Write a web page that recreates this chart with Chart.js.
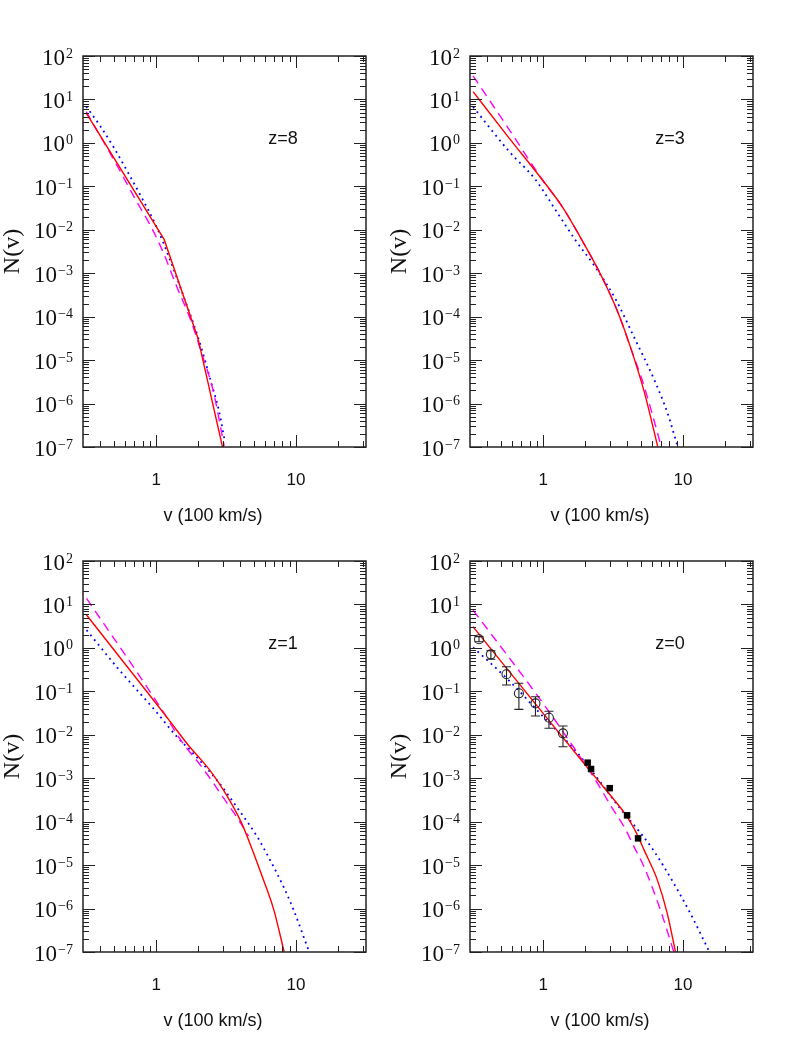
<!DOCTYPE html>
<html>
<head>
<meta charset="utf-8">
<script src="https://cdn.jsdelivr.net/npm/chart.js@4.4.1/dist/chart.umd.min.js"></script>
<style>
  html, body { margin: 0; padding: 0; background: #fff; }
  #page { position: relative; width: 795px; height: 1059px; overflow: hidden; background: #fff; }
  canvas { position: absolute; }
</style>
</head>
<body>
<div id="page">
  <canvas id="c8" width="387" height="530" style="left:0;top:0"></canvas>
  <canvas id="c3" width="408" height="530" style="left:387px;top:0"></canvas>
  <canvas id="c1" width="387" height="554" style="left:0;top:505px"></canvas>
  <canvas id="c0" width="408" height="554" style="left:387px;top:505px"></canvas>
</div>
<script>
// axis ranges and ticks
const xMin = 0.3162, xMax = 31.62;
const yMin = 1e-7, yMax = 100;
const xMajorTicks = [1, 10];
const xTickLabels = ['1', '10'];
const xMinorTicks = [0.4, 0.5, 0.6, 0.7, 0.8, 0.9, 2, 3, 4, 5, 6, 7, 8, 9, 20, 30];
const yExponents = [2, 1, 0, -1, -2, -3, -4, -5, -6, -7];
const yMinorSteps = [2, 3, 4, 5, 6, 7, 8, 9];

// z = 8
const v8Red = [0.316, 1.14, 1.99, 2.98];
const n8Red = [4.9, 6.0e-3, 3.2e-5, 1.0e-7];
const v8Mag = [0.316, 0.528, 0.711, 0.916, 1.127, 1.400, 1.762, 2.075, 2.576, 3.062];
const n8Mag = [5.25, 0.292, 0.0501, 0.0120, 2.95e-3, 5.0e-4, 8.5e-5, 1.74e-5, 1.78e-6, 1.05e-7];
const v8Blue = [0.316, 0.398, 0.501, 0.631, 0.794, 1.0, 1.259, 1.585, 1.995, 2.512, 2.818, 3.09];
const n8Blue = [6.9, 2.45, 0.76, 0.204, 0.0525, 0.0123, 2.0e-3, 2.7e-4, 3.3e-5, 2.57e-6, 6.6e-7, 1.4e-7];

// z = 3
const v3Red = [0.3155, 0.562, 0.989, 1.368, 1.892, 2.624, 3.443, 4.276, 5.309, 6.592];
const n3Red = [15.1, 1.38, 0.140, 0.0340, 5.81e-3, 8.32e-4, 1.20e-4, 1.70e-5, 1.74e-6, 1.02e-7];
const v3Mag = [0.3155, 0.565, 0.989, 1.368, 1.892, 2.624, 3.443, 4.276, 5.035, 5.916, 6.998];
const n3Mag = [34.7, 2.14, 0.140, 0.0340, 5.81e-3, 8.32e-4, 1.20e-4, 1.70e-5, 3.98e-6, 7.08e-7, 1.0e-7];
const v3Blue = [0.3155, 0.565, 0.885, 1.227, 1.698, 2.350, 3.258, 4.508, 6.237, 7.762, 9.162];
const n3Blue = [6.76, 0.661, 0.140, 0.0285, 5.81e-3, 1.41e-3, 2.69e-4, 3.16e-5, 3.47e-6, 5.89e-7, 1.0e-7];

// z = 1
const v1Red = [0.318, 1.0, 1.297, 1.698, 2.0, 2.410, 3.076, 4.036, 4.875, 5.741, 6.934, 8.222];
const n1Red = [5.71, 0.0525, 0.0178, 5.75e-3, 3.16e-3, 1.55e-3, 4.90e-4, 1.0e-4, 2.24e-5, 5.37e-6, 9.33e-7, 1.0e-7];
const v1Mag = [0.318, 1.102, 1.483, 2.223, 3.162, 3.819, 4.571];
const n1Mag = [13.8, 0.0372, 7.94e-3, 1.48e-3, 2.88e-4, 1.20e-4, 4.68e-5];
const v1Blue = [0.318, 0.546, 1.0, 1.406, 1.795, 2.838, 3.819, 5.284, 6.561, 8.147, 9.572, 12.42];
const n1Blue = [2.57, 0.309, 0.0339, 9.02e-3, 4.07e-3, 7.59e-4, 2.04e-4, 4.47e-5, 1.26e-5, 3.16e-6, 9.55e-7, 1.0e-7];

// z = 0
const v0Red = [0.315, 1.0, 1.871, 2.455, 3.221, 3.793, 4.227, 4.721, 5.26, 6.546, 7.709, 8.83];
const n0Red = [3.08, 0.0311, 2.63e-3, 9.1e-4, 3.16e-4, 1.62e-4, 9.5e-5, 4.90e-5, 2.24e-5, 4.57e-6, 7.76e-7, 1.0e-7];
const v0Mag = [0.3155, 1.0, 1.770, 2.323, 3.133, 3.793, 4.467, 5.260, 6.902, 8.590];
const n0Mag = [7.41, 0.0525, 3.72e-3, 1.0e-3, 2.0e-4, 7.59e-5, 2.63e-5, 9.12e-6, 9.12e-7, 1.0e-7];
const v0Blue = [0.3155, 0.565, 1.0, 1.770, 3.793, 4.467, 6.026, 8.59, 11.27, 15.45];
const n0Blue = [1.03, 0.182, 0.0261, 3.72e-3, 1.55e-4, 8.32e-5, 2.40e-5, 3.80e-6, 7.76e-7, 1.0e-7];

// z = 0 observed points
const vObsCirc = [0.348, 0.423, 0.547, 0.671, 0.881, 1.10, 1.386];
const nObsCirc = [1.58, 0.71, 0.247, 0.090, 0.0528, 0.0247, 0.0108];
const nObsCircLo = [1.38, 0.546, 0.140, 0.0385, 0.0270, 0.0141, 5.31e-3];
const nObsCircHi = [1.82, 0.861, 0.369, 0.153, 0.0752, 0.0347, 0.0159];
const vObsSq = [2.08, 2.20, 2.99, 3.98, 4.77];
const nObsSq = [2.28e-3, 1.63e-3, 5.9e-4, 1.40e-4, 4.13e-5];

const RED = '#ff0000', MAGENTA = '#ff00ff', BLUE = '#0000ff', INK = '#222222';
const SERIF = '"Liberation Serif", "DejaVu Serif", serif';
const SANS = '"Liberation Sans", Arial, sans-serif';

function pts(vs, ns) {
  return vs.map((v, i) => ({ x: v, y: ns[i] }));
}

function curve(vs, ns, color, dash, smooth) {
  const dotted = dash && dash[0] < 3;
  return {
    data: pts(vs, ns),
    borderColor: color,
    borderWidth: dotted ? 1.8 : 1.4,
    borderDash: dash || [],
    pointRadius: 0,
    fill: false,
    clip: 0,
    tension: 0,
    cubicInterpolationMode: smooth ? 'monotone' : 'default'
  };
}

// frame, inward ticks, labels and error bars
function axesPlugin(label, errs) {
  return {
    id: 'axesFrame',
    afterDatasetsDraw(chart) {
      if (!errs) return;
      const { ctx, chartArea: a, scales: { x, y } } = chart;
      ctx.save();
      ctx.beginPath();
      ctx.rect(a.left, a.top, a.right - a.left, a.bottom - a.top);
      ctx.clip();
      ctx.strokeStyle = INK;
      ctx.lineWidth = 1.1;
      errs.v.forEach((v, i) => {
        const px = x.getPixelForValue(v);
        const lo = y.getPixelForValue(errs.lo[i]);
        const hi = y.getPixelForValue(errs.hi[i]);
        ctx.beginPath();
        ctx.moveTo(px, lo); ctx.lineTo(px, hi);
        ctx.moveTo(px - 4.5, lo); ctx.lineTo(px + 4.5, lo);
        ctx.moveTo(px - 4.5, hi); ctx.lineTo(px + 4.5, hi);
        ctx.stroke();
      });
      ctx.restore();
    },
    afterDraw(chart) {
      const { ctx, chartArea: a, scales: { x, y } } = chart;
      ctx.save();
      ctx.strokeStyle = INK;
      ctx.fillStyle = '#111';

      // x ticks, bottom and top
      ctx.lineWidth = 1;
      const xTick = (v, len) => {
        const px = Math.round(x.getPixelForValue(v)) + 0.5;
        ctx.beginPath();
        ctx.moveTo(px, a.bottom); ctx.lineTo(px, a.bottom - len);
        ctx.moveTo(px, a.top); ctx.lineTo(px, a.top + len);
        ctx.stroke();
      };
      xMajorTicks.forEach(v => xTick(v, 12));
      xMinorTicks.forEach(v => xTick(v, 6));

      // y ticks, left and right
      const yTick = (v, len) => {
        const py = Math.round(y.getPixelForValue(v)) + 0.5;
        ctx.beginPath();
        ctx.moveTo(a.left, py); ctx.lineTo(a.left + len, py);
        ctx.moveTo(a.right, py); ctx.lineTo(a.right - len, py);
        ctx.stroke();
      };
      yExponents.forEach(e => {
        yTick(Math.pow(10, e), 12);
        if (e < 2) yMinorSteps.forEach(m => yTick(m * Math.pow(10, e), 6));
      });

      // frame
      ctx.lineWidth = 1.5;
      ctx.strokeRect(a.left, a.top, a.right - a.left, a.bottom - a.top);

      // y tick labels 10^n
      ctx.textAlign = 'right';
      ctx.textBaseline = 'alphabetic';
      yExponents.forEach(e => {
        const py = y.getPixelForValue(Math.pow(10, e));
        const sup = e < 0 ? '\u2212' + (-e) : String(e);
        ctx.font = '14px ' + SERIF;
        const wSup = ctx.measureText(sup).width;
        ctx.fillText(sup, a.left - 10, py + 1.5);
        ctx.font = '23px ' + SERIF;
        ctx.fillText('10', a.left - 10 - wSup - 1, py + 8.5);
      });

      // x tick labels
      ctx.textAlign = 'center';
      ctx.font = '17px ' + SANS;
      xMajorTicks.forEach((v, i) => {
        ctx.fillText(xTickLabels[i], x.getPixelForValue(v), a.bottom + 38);
      });

      // x title
      ctx.font = '18px ' + SANS;
      ctx.fillText('v (100 km/s)', a.left + 130, a.bottom + 74);

      // panel label
      ctx.fillText(label, a.left + 200, a.top + 88);

      // y title
      ctx.save();
      ctx.translate(a.left - 70, (a.top + a.bottom) / 2);
      ctx.rotate(-Math.PI / 2);
      ctx.textBaseline = 'middle';
      ctx.font = '24px ' + SERIF;
      ctx.fillText('N(v)', 0, 0);
      ctx.restore();

      ctx.restore();
    }
  };
}

function makePanel(id, label, datasets, errs) {
  const canvas = document.getElementById(id);
  return new Chart(canvas, {
    type: 'line',
    data: { datasets: datasets },
    options: {
      responsive: false,
      animation: false,
      events: [],
      layout: {
        padding: { left: 83, top: 56, right: canvas.width - 366, bottom: canvas.height - 447 }
      },
      scales: {
        x: { type: 'logarithmic', min: xMin, max: xMax, display: false },
        y: { type: 'logarithmic', min: yMin, max: yMax, display: false }
      },
      plugins: {
        legend: { display: false },
        tooltip: { enabled: false }
      }
    },
    plugins: [axesPlugin(label, errs)]
  });
}

const MAG_DASH = [9, 6];
const BLUE_DOTS = [1.8, 4.2];

makePanel('c8', 'z=8', [
  curve(v8Red, n8Red, RED, null, false),
  curve(v8Mag, n8Mag, MAGENTA, MAG_DASH, true),
  curve(v8Blue, n8Blue, BLUE, BLUE_DOTS, true)
]);

makePanel('c3', 'z=3', [
  curve(v3Red, n3Red, RED, null, true),
  curve(v3Mag, n3Mag, MAGENTA, MAG_DASH, true),
  curve(v3Blue, n3Blue, BLUE, BLUE_DOTS, true)
]);

makePanel('c1', 'z=1', [
  curve(v1Red, n1Red, RED, null, true),
  curve(v1Mag, n1Mag, MAGENTA, MAG_DASH, true),
  curve(v1Blue, n1Blue, BLUE, BLUE_DOTS, true)
]);

makePanel('c0', 'z=0', [
  {
    data: pts(vObsSq, nObsSq),
    showLine: false,
    pointStyle: 'rect',
    pointRadius: 4.6,
    pointBackgroundColor: '#000',
    pointBorderColor: '#000',
    pointBorderWidth: 0
  },
  {
    data: pts(vObsCirc, nObsCirc),
    showLine: false,
    pointStyle: 'circle',
    pointRadius: 4.5,
    pointBackgroundColor: 'rgba(0,0,0,0)',
    pointBorderColor: INK,
    pointBorderWidth: 1.1
  },
  curve(v0Red, n0Red, RED, null, true),
  curve(v0Mag, n0Mag, MAGENTA, MAG_DASH, true),
  curve(v0Blue, n0Blue, BLUE, BLUE_DOTS, true)
], { v: vObsCirc, lo: nObsCircLo, hi: nObsCircHi });
</script>
</body>
</html>
